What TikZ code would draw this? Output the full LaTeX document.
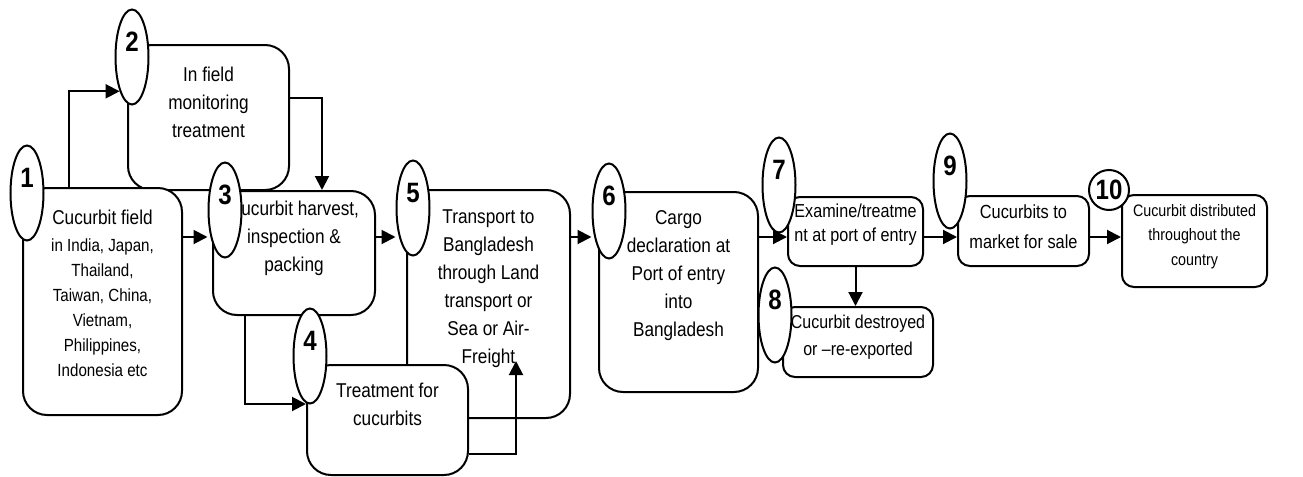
\documentclass[tikz,border=0pt]{standalone}
\usepackage{fontspec}
\setmainfont{Liberation Sans}[FakeStretch=0.86]
\usetikzlibrary{shapes.geometric, arrows.meta}
\tikzset{
	stage/.style={draw, line width=1pt, rounded corners=12pt, fill=white, inner sep=0pt}, % big rounded boxes
	smallstage/.style={stage, rounded corners=6pt}, % the boxes on the right
	stagetext/.style={align=center, inner sep=0pt, font=\fontsize{10}{14}\selectfont}, % text inside a box
	num/.style={ellipse, draw, line width=1pt, fill=white, minimum width=16.5pt, minimum height=47.5pt, inner sep=0pt, font=\fontsize{14}{14}\selectfont\bfseries, text height=10pt, text depth=16pt}, % step numbers
	numcircle/.style={circle, draw, line width=1pt, fill=white, minimum size=20pt, inner sep=0pt, font=\fontsize{14}{14}\selectfont\bfseries},
	flow/.style={-{Triangle[length=7pt, width=7pt]}, line width=1pt}, % connectors
}
\begin{document}
\begin{tikzpicture}[x=0.5pt, y=-0.5pt]
	\useasboundingbox (0,0) rectangle (1303,477);
	% boxes
	\node[stage, minimum width=80.5pt, minimum height=72.5pt] (b2) at (208.5,117.5) {};
	\node[stage, minimum width=79.5pt, minimum height=113.5pt] (b1) at (102.5,301.5) {};
	\node[stage, minimum width=81pt, minimum height=62pt] (b3) at (294,253) {};
	\node[stage, minimum width=81.5pt, minimum height=114pt] (b5) at (488.5,304) {};
	\node[stage, minimum width=80.5pt, minimum height=55pt] (b4) at (387.5,420) {};
	\node[stage, minimum width=79.5pt, minimum height=100pt] (b6) at (678.5,292) {};
	\node[smallstage, minimum width=67.5pt, minimum height=34.5pt] (b7) at (855.5,231.5) {};
	\node[smallstage, minimum width=75pt, minimum height=35pt] (b8) at (858,342) {};
	\node[smallstage, minimum width=65.5pt, minimum height=35pt] (b9) at (1023.5,231) {};
	\node[smallstage, minimum width=72.5pt, minimum height=46pt] (b10) at (1194.5,241) {};
	% texts
	\node[stagetext, font=\fontsize{8.8}{12.5}\selectfont] (t1) at ([shift={(0,-8.5)}]b1.center)
		{{\fontsize{10}{12}\selectfont Cucurbit field}\\[1pt] in India, Japan,\\ Thailand,\\ Taiwan, China,\\ Vietnam,\\ Philippines,\\ Indonesia etc};
	\node[stagetext] (t2) at ([shift={(0,-15.5)}]b2.center) {In field\\ monitoring\\ treatment};
	\node[stagetext] (t3) at ([shift={(0,-15)}]b3.center) {Cucurbit harvest,\\ inspection \&\\ packing};
	\node[stagetext] (t4) at ([shift={(0,-16)}]b4.center) {Treatment for\\ cucurbits};
	\node[stagetext] (t5) at ([shift={(0,-15)}]b5.center) {Transport to\\ Bangladesh\\ through Land\\ transport or\\ Sea or Air-\\ Freight};
	\node[stagetext] (t6) at ([shift={(0,-16)}]b6.center) {Cargo\\ declaration at\\ Port of entry\\ into\\ Bangladesh};
	\node[stagetext, font=\fontsize{9.4}{12}\selectfont] (t7) at ([shift={(0,-6.5)}]b7.center) {Examine/treatme\\ nt at port of entry};
	\node[stagetext, font=\fontsize{9.3}{13.3}\selectfont] (t8) at ([shift={(0,-5)}]b8.center) {Cucurbit destroyed\\ or \textendash re-exported};
	\node[stagetext, font=\fontsize{9.5}{15}\selectfont] (t9) at ([shift={(0,-4)}]b9.center) {Cucurbits to\\ market for sale};
	\node[stagetext, font=\fontsize{8.3}{12.3}\selectfont] (t10) at ([shift={(0,-4.5)}]b10.center) {Cucurbit distributed\\ throughout the\\ country};
	% numbers
	\node[num] (e1) at ([shift={(5,6)}]b1.north west) {1};
	\node[num] (e2) at ([shift={(5,13)}]b2.north west) {2};
	\node[num] (e3) at ([shift={(13,20)}]b3.north west) {3};
	\node[num] (e4) at ([shift={(4,-8)}]b4.north west) {4};
	\node[num] (e5) at ([shift={(7,19)}]b5.north west) {5};
	\node[num] (e6) at ([shift={(11,20)}]b6.north west) {6};
	\node[num] (e7) at ([shift={(-8,-11)}]b7.north west) {7};
	\node[num] (e8) at ([shift={(-7,9)}]b8.north west) {8};
	\node[num] (e9) at ([shift={(-7,-14)}]b9.north west) {9};
	\node[numcircle] (e10) at ([shift={(-12,-4)}]b10.north west) {10};
	% connectors
	\coordinate (midrow) at (0,237);
	\draw[flow] ([shift={(47,0)}]b1.north west) |- (e2.south west);
	\draw[flow] ([shift={(0,54)}]b2.north east) -| ([shift={(28,0)}]b3.north);
	\draw[flow] (b1.east |- midrow) -- (e3.west |- midrow);
	\draw[flow] ([shift={(33,0)}]b3.south west) |- ([shift={(0,40)}]b4.north west);
	\draw[flow] (b3.east |- midrow) -- (e5.west |- midrow);
	\draw[flow] ([shift={(0,90)}]b4.north east) -| ([shift={(27.5,-58)}]b5.south);
	\draw[flow] (b5.east |- midrow) -- (e6.west |- midrow);
	\draw[flow] (b6.east |- midrow) -- (b7.west |- midrow);
	\draw[flow] (b7.south) -- (b7.south |- b8.north);
	\draw[flow] (b7.east |- midrow) -- (b9.west |- midrow);
	\draw[flow] (b9.east |- midrow) -- (b10.west |- midrow);
\end{tikzpicture}
\end{document}
